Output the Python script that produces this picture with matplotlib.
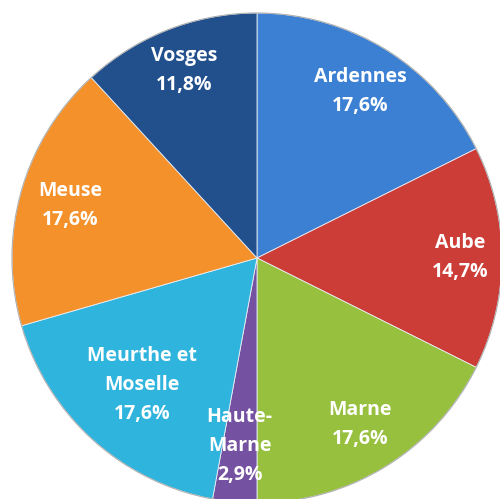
import numpy as np
import matplotlib.pyplot as plt

departements = ["Ardennes", "Aube", "Marne", "Haute-\nMarne",
                "Meurthe et\nMoselle", "Meuse", "Vosges"]
parts = [17.6, 14.7, 17.6, 2.9, 17.6, 17.6, 11.8]
pct_labels = ["17,6%", "14,7%", "17,6%", "2,9%", "17,6%", "17,6%", "11,8%"]

colors = ["#3b80d3", "#cd3d38", "#97c03f", "#7551a2",
          "#2fb4dd", "#f5912b", "#21508d"]
# distance of each label from the centre (fraction of radius)
label_r = [0.80, 0.83, 0.80, 0.77, 0.70, 0.79, 0.82]

fig = plt.figure(figsize=(5.0, 4.99), dpi=100)
ax = fig.add_axes([0, 0, 1, 1])

wedges, _ = ax.pie(parts, colors=colors, startangle=90, counterclock=False,
                   radius=1.0, center=(0, 0),
                   wedgeprops=dict(edgecolor="#e8eef5", linewidth=0.6))

for w in wedges:
    w.set_zorder(1)
ax.add_patch(plt.Circle((0, 0), 1.0, fill=False, edgecolor="#b0b0b0",
                        linewidth=0.8, zorder=2))

for w, name, pct, r in zip(wedges, departements, pct_labels, label_r):
    ang = np.deg2rad((w.theta1 + w.theta2) / 2)
    x, y = r * np.cos(ang), r * np.sin(ang)
    ax.text(x, y, name + "\n" + pct, ha="center", va="center",
            color="white", fontsize=14, fontweight="bold",
            family="Open Sans", linespacing=1.6, zorder=3)

ax.set_xlim(-257 / 245, 243 / 245)
ax.set_ylim(-241 / 245, 258 / 245)
ax.set_aspect("auto")
ax.axis("off")

fig.savefig("out.png", dpi=100, facecolor="white")
